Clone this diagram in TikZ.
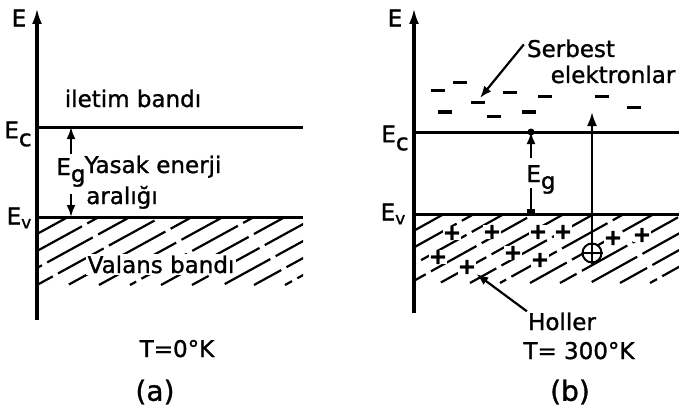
\documentclass[tikz,border=0pt]{standalone}
\usepackage{fontspec}
\setmainfont{DejaVu Sans}
\newfontfamily\scanfont{DejaVu Sans}[FakeBold=1.2]
\usetikzlibrary{arrows.meta,calc}
\begin{document}
\begin{tikzpicture}[x=1pt,y=-1pt,
  lbl/.style={font=\scanfont\fontsize{23}{26}\selectfont, inner sep=1pt},
  big/.style={font=\scanfont\fontsize{28}{30}\selectfont, inner sep=1pt},
  axis/.style={line width=3.4pt,-{Latex[length=16pt,width=10pt]}},
  level/.style={line width=3pt},
  hatchline/.style={line width=2.2pt, dash pattern=on 52pt off 6pt},
  tip/.style={line width=2.2pt,-{Latex[length=12pt,width=9pt]}},
  el/.style={line width=3pt},
  pl/.style={font=\scanfont\bfseries\fontsize{22}{22}\selectfont, fill=white, inner sep=0pt},
]
\useasboundingbox (0,0) rectangle (679,417);

% ---------- panel (a) ----------
\begin{scope}
\clip (37,217) rectangle (303,285);
\foreach \k in {0,...,14} \draw[hatchline, dash phase=\k*23pt] (37+31*\k-124,285) -- ++(124,-68);
\end{scope}
\coordinate (a0) at (37,320);
\coordinate (aTop) at (37,8);
\draw[axis] (a0) -- (aTop);
\node[lbl] (aE) at (19,18) {E};
\coordinate (aEcL) at (37,127); \coordinate (aEcR) at (303,127);
\coordinate (aEvL) at (37,217); \coordinate (aEvR) at (303,217);
\draw[level] (aEcL) -- (aEcR);
\draw[level] (aEvL) -- (aEvR);
\node[lbl] (aEc) at (18,134) {E\raisebox{-8pt}{c}};
\node[lbl] (aEv) at (19,218) {E\raisebox{-4pt}{\fontsize{17}{17}\selectfont v}};
\node[lbl, anchor=base] (ilet) at (133,107) {iletim bandı};
\node[lbl, anchor=base] (aEg) at (71,175) {E\raisebox{-7pt}{g}};
\node[lbl, anchor=base] (yas) at (153,173) {Yasak enerji};
\node[lbl, anchor=base] (ara) at (122,204) {aralığı};
\coordinate (aEgTop) at (71,127); \coordinate (aEgBot) at (71,217);
\coordinate (aEgU) at (71,154); \coordinate (aEgD) at (71,194);
\draw[tip] (aEgU) -- (aEgTop);
\draw[tip] (aEgD) -- (aEgBot);
\node[lbl, anchor=base, fill=white, inner sep=2pt] (val) at (161,273) {Valans bandı};
\node[lbl, anchor=base] (Ta) at (177,357) {T=0°K};
\node[big] (pa) at (155,392) {(a)};

% ---------- panel (b) ----------
\begin{scope}
\clip (414,214) rectangle (679,283);
\foreach \k in {0,...,15} \draw[hatchline, dash phase=\k*23pt] (414+30*\k-124,283) -- ++(124,-69);
\end{scope}
\coordinate (b0) at (414,313);
\coordinate (bTop) at (414,8);
\draw[axis] (b0) -- (bTop);
\node[lbl] (bE) at (395,18) {E};
\coordinate (bEcL) at (414,132); \coordinate (bEcR) at (679,132);
\coordinate (bEvL) at (414,214); \coordinate (bEvR) at (679,214);
\draw[level] (bEcL) -- (bEcR);
\draw[level] (bEvL) -- (bEvR);
\node[lbl] (bEc) at (395,138) {E\raisebox{-8pt}{c}};
\node[lbl] (bEv) at (393,214) {E\raisebox{-4pt}{\fontsize{17}{17}\selectfont v}};

% Eg arrow
\coordinate (bEgTop) at (531,132); \coordinate (bEgBot) at (531,214);
\coordinate (bEgU) at (531,158); \coordinate (bEgD) at (531,188);
\draw[tip] (bEgU) -- (bEgTop);
\draw[line width=2.2pt] (bEgD) -- (bEgBot);
\fill (bEgTop) circle (3.5pt);
\fill ($(bEgBot)+(-4,-5)$) rectangle ($(bEgBot)+(4,1)$);
\node[lbl, anchor=base] (bEg) at (541,182) {E\raisebox{-7pt}{g}};

% free electrons
\foreach \x/\y in {438/91, 460/83, 445/112, 478/103, 494/116, 510/93, 529/112, 545/97, 602/97, 634/108}
  \draw[el] (\x-7,\y) -- (\x+7,\y);

% hole and excitation arrow
\node[draw, circle, line width=2pt, minimum size=19pt, inner sep=0pt, fill=white] (hole) at (592,253) {};
\draw[line width=2pt] (hole.north) -- (hole.south);
\draw[line width=2pt] (hole.west) -- (hole.east);
\coordinate (exTop) at (592,112);
\draw[line width=2.4pt,-{Latex[length=14pt,width=10pt]}] (hole.north) -- (exTop);

% holes (plus signs)
\foreach \x/\y [count=\i] in {452/233, 492/232, 538/232, 563/232, 438/257, 513/253, 540/260, 467/267, 613/238, 642/235}
  \node[pl] (p\i) at (\x,\y) {+};

% labels with arrows
\node[lbl, anchor=base] (ser) at (571,57) {Serbest};
\node[lbl, anchor=base] (elk) at (613,83) {elektronlar};
\coordinate (serTip) at (480,98);
\path (ser.west) ++(-2,-4) coordinate (serStart);
\draw[tip] (serStart) -- (serTip);
\node[lbl, anchor=base] (hol) at (562,330) {Holler};
\draw[tip] (hol.north west) -- (p8);
\node[lbl, anchor=base] (Tb) at (579,359) {T= 300°K};
\node[big] (pb) at (570,392) {(b)};
\end{tikzpicture}
\end{document}
